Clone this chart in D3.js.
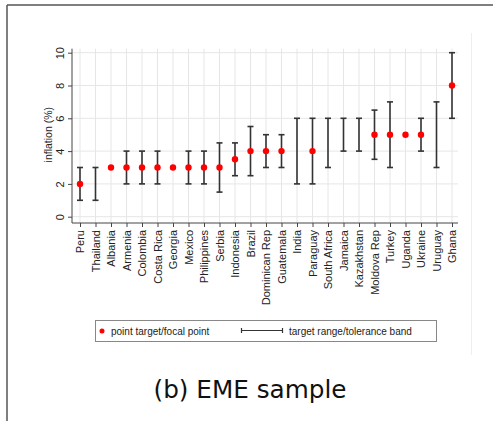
<!DOCTYPE html>
<html>
<head>
<meta charset="utf-8">
<script src="https://cdn.jsdelivr.net/npm/d3@7"></script>
<style>
	body{margin:0;background:#fff;}
	svg{display:block;}
</style>
</head>
<body>
<svg id="chart" width="493" height="421"></svg>
<script>
// countries in plotted order
const countries = ['Peru','Thailand','Albania','Armenia','Colombia','Costa Rica','Georgia','Mexico','Philippines','Serbia','Indonesia','Brazil','Dominican Rep','Guatemala','India','Paraguay','South Africa','Jamaica','Kazakhstan','Moldova Rep','Turkey','Uganda','Ukraine','Uruguay','Ghana'];
// point target (null = none)
const pointTarget = [2,null,3,3,3,3,3,3,3,3,3.5,4,4,4,null,4,null,null,null,5,5,5,5,null,8];
// target range / tolerance band (null = none)
const bandLow  = [1,1,null,2,2,2,null,2,2,1.5,2.5,2.5,3,3,2,2,3,4,4,3.5,3,null,4,3,6];
const bandHigh = [3,3,null,4,4,4,null,4,4,4.5,4.5,5.5,5,5,6,6,6,6,6,6.5,7,null,6,7,10];
const yTicks = [0,2,4,6,8,10];

const svg = d3.select('#chart');
const font = '"Liberation Sans", Arial, sans-serif';

// outer frame (top + left only visible)
svg.append('line').attr('x1',7).attr('x2',493).attr('y1',5).attr('y2',5)
	.attr('stroke','#555').attr('stroke-width',1.5);
svg.append('line').attr('x1',7).attr('x2',7).attr('y1',5).attr('y2',421)
	.attr('stroke','#555').attr('stroke-width',1.5);
// faint graph region edge
svg.append('line').attr('x1',471.5).attr('x2',471.5).attr('y1',33).attr('y2',355)
	.attr('stroke','#eee').attr('stroke-width',1);

const xScale = d3.scalePoint()
	.domain(countries)
	.range([80,452]);
const yScale = d3.scaleLinear()
	.domain([0,10])
	.range([216.7,52.7]);

const plotLeft = 72, plotRight = 458, axisY = 223;

// grid
svg.append('g').selectAll('line.hgrid')
	.data(yTicks)
	.join('line')
		.attr('x1',plotLeft).attr('x2',plotRight)
		.attr('y1',d=>yScale(d)).attr('y2',d=>yScale(d))
		.attr('stroke','#e6e6e6').attr('stroke-width',1);
svg.append('g').selectAll('line.vgrid')
	.data(countries)
	.join('line')
		.attr('x1',d=>xScale(d)).attr('x2',d=>xScale(d))
		.attr('y1',yScale(10)-4).attr('y2',axisY)
		.attr('stroke','#e6e6e6').attr('stroke-width',1);

// y axis
const yAxis = d3.axisLeft(yScale).tickValues(yTicks).tickSize(4).tickFormat(d3.format('d'));
const gy = svg.append('g').attr('transform','translate('+plotLeft+',0)').call(yAxis);
gy.select('.domain').attr('d','M0,'+(yScale(10)-4)+'V'+axisY).attr('stroke','#444');
gy.selectAll('.tick line').attr('stroke','#444');
gy.selectAll('.tick text')
	.attr('font-family',font).attr('font-size',11).attr('fill','#222')
	.attr('x',0).attr('dy',0)
	.attr('text-anchor','middle')
	.attr('transform','translate(-8,0) rotate(-90)');

// x axis
const xAxis = d3.axisBottom(xScale).tickSize(4).tickPadding(3);
const gx = svg.append('g').attr('transform','translate(0,'+axisY+')').call(xAxis);
gx.select('.domain').attr('d','M'+plotLeft+',0H'+plotRight).attr('stroke','#444');
gx.selectAll('.tick line').attr('stroke','#444');
gx.selectAll('.tick text')
	.attr('font-family',font).attr('font-size',11).attr('fill','#222')
	.attr('text-anchor','end')
	.attr('x',-7).attr('y',0).attr('dy','0.35em')
	.attr('transform','rotate(-90)');

// y axis title
svg.append('text')
	.attr('transform','translate(52,'+yScale(5)+') rotate(-90)')
	.attr('text-anchor','middle')
	.attr('font-family',font).attr('font-size',10.5).attr('fill','#222')
	.text('inflation (%)');

// error bars
const bands = countries.map((c,i)=>({c, lo:bandLow[i], hi:bandHigh[i]})).filter(d=>d.lo!==null);
const eb = svg.append('g').attr('stroke','#333').attr('stroke-width',1.6);
eb.selectAll('line.bar').data(bands).join('line')
	.attr('x1',d=>xScale(d.c)).attr('x2',d=>xScale(d.c))
	.attr('y1',d=>yScale(d.lo)).attr('y2',d=>yScale(d.hi));
eb.selectAll('line.caplo').data(bands).join('line')
	.attr('x1',d=>xScale(d.c)-3).attr('x2',d=>xScale(d.c)+3)
	.attr('y1',d=>yScale(d.lo)).attr('y2',d=>yScale(d.lo));
eb.selectAll('line.caphi').data(bands).join('line')
	.attr('x1',d=>xScale(d.c)-3).attr('x2',d=>xScale(d.c)+3)
	.attr('y1',d=>yScale(d.hi)).attr('y2',d=>yScale(d.hi));

// point targets
const pts = countries.map((c,i)=>({c, v:pointTarget[i]})).filter(d=>d.v!==null);
svg.append('g').selectAll('circle').data(pts).join('circle')
	.attr('cx',d=>xScale(d.c)).attr('cy',d=>yScale(d.v))
	.attr('r',3.2).attr('fill','#f00');

// legend
const lg = svg.append('g');
lg.append('rect').attr('x',95.5).attr('y',320.5).attr('width',341).attr('height',21)
	.attr('fill','#fff').attr('stroke','#888').attr('stroke-width',1);
lg.append('circle').attr('cx',102).attr('cy',331).attr('r',2.5).attr('fill','#f00');
lg.append('text').attr('x',111).attr('y',334.5)
	.attr('font-family',font).attr('font-size',10).attr('fill','#222')
	.text('point target/focal point');
lg.append('line').attr('x1',241.5).attr('x2',282.5).attr('y1',330.5).attr('y2',330.5)
	.attr('stroke','#333').attr('stroke-width',1.2);
lg.append('line').attr('x1',241.5).attr('x2',241.5).attr('y1',328).attr('y2',333)
	.attr('stroke','#333').attr('stroke-width',1.2);
lg.append('line').attr('x1',282.5).attr('x2',282.5).attr('y1',328).attr('y2',333)
	.attr('stroke','#333').attr('stroke-width',1.2);
lg.append('text').attr('x',289).attr('y',334.5)
	.attr('font-family',font).attr('font-size',10).attr('fill','#222')
	.text('target range/tolerance band');

// caption
svg.append('text').attr('x',250).attr('y',397.5)
	.attr('text-anchor','middle')
	.attr('font-family','"DejaVu Sans", sans-serif').attr('font-size',24).attr('fill','#111')
	.attr('textLength',193).attr('lengthAdjust','spacingAndGlyphs')
	.text('(b) EME sample');
</script>
</body>
</html>
